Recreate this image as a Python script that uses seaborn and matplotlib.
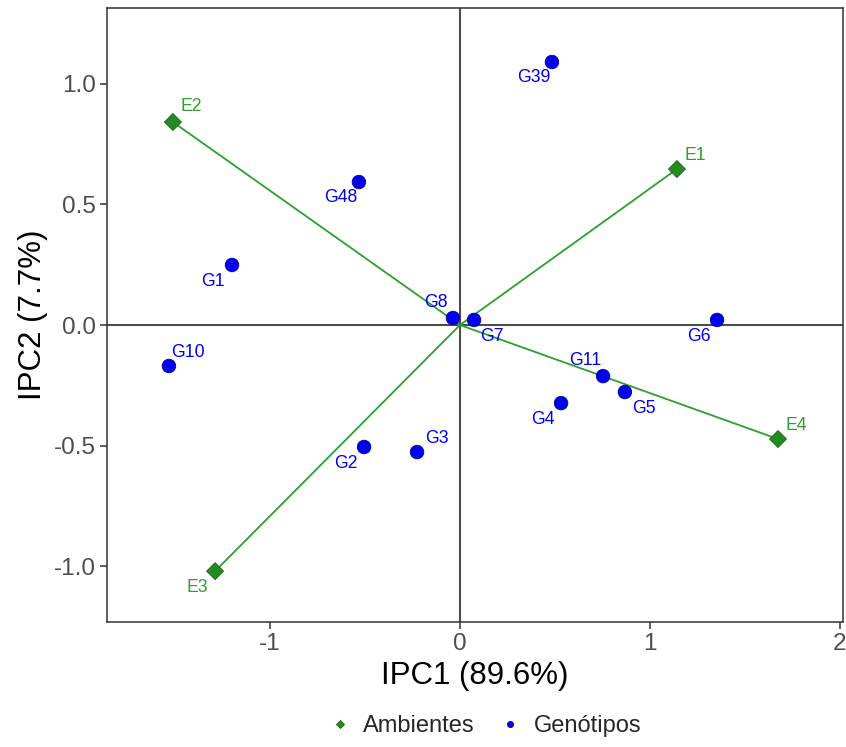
import matplotlib
matplotlib.use("Agg")
import matplotlib.pyplot as plt
import seaborn as sns
import pandas as pd

# Environment scores (IPC1, IPC2)
env_names = ["E1", "E2", "E3", "E4"]
env_pc1 = [1.142, -1.511, -1.289, 1.674]
env_pc2 = [0.647, 0.842, -1.021, -0.473]

# Genotype scores (IPC1, IPC2)
gen_names = ["G39", "G48", "G1", "G10", "G8", "G7", "G6", "G11", "G5", "G4", "G3", "G2"]
gen_pc1 = [0.484, -0.532, -1.200, -1.532, -0.037, 0.074, 1.353, 0.753, 0.868, 0.532, -0.226, -0.505]
gen_pc2 = [1.091, 0.593, 0.249, -0.170, 0.029, 0.021, 0.021, -0.212, -0.278, -0.324, -0.527, -0.506]

# Label offsets in points (dx, dy)
env_off = {"E1": (13, 10), "E2": (13, 11), "E3": (-13, -12), "E4": (13, 10)}
gen_off = {"G39": (-13, -11), "G48": (-13, -11), "G1": (-14, -12), "G10": (14, 10),
           "G8": (-12, 11), "G7": (13, -12), "G6": (-13, -12), "G11": (-13, 11),
           "G5": (14, -12), "G4": (-13, -12), "G3": (14, 10), "G2": (-13, -12)}

env_df = pd.DataFrame({"IPC1": env_pc1, "IPC2": env_pc2, "nome": env_names, "tipo": "Ambientes"})
gen_df = pd.DataFrame({"IPC1": gen_pc1, "IPC2": gen_pc2, "nome": gen_names, "tipo": "Genótipos"})

sns.set_theme(style="white")
plt.rcParams["font.family"] = ["Liberation Sans", "DejaVu Sans"]

fig = plt.figure(figsize=(8.46, 7.47), dpi=100)
ax = fig.add_axes([107 / 846, 125 / 747, 736 / 846, 614 / 747])

ax.axhline(0, color="#4d4d4d", lw=1.5, zorder=1)
ax.axvline(0, color="#4d4d4d", lw=1.5, zorder=1)

# Environment vectors from the origin
for x, y in zip(env_pc1, env_pc2):
    ax.plot([0, x], [0, y], color="#2ca02c", lw=1.3, zorder=2, solid_capstyle="butt")

sns.scatterplot(data=env_df, x="IPC1", y="IPC2", hue="tipo", palette={"Ambientes": "#228B22"},
                marker="D", s=75, edgecolor="#1a5e1a", linewidth=0.6, ax=ax, zorder=3)
sns.scatterplot(data=gen_df, x="IPC1", y="IPC2", hue="tipo", palette={"Genótipos": "#0000EE"},
                marker="o", s=95, edgecolor="#00009a", linewidth=0.6, ax=ax, zorder=3)

for n, x, y in zip(env_names, env_pc1, env_pc2):
    dx, dy = env_off[n]
    ax.annotate(n, (x, y), xytext=(dx, dy), textcoords="offset points",
                ha="center", va="center", color="#2ca02c", fontsize=12.7)
for n, x, y in zip(gen_names, gen_pc1, gen_pc2):
    dx, dy = gen_off[n]
    ax.annotate(n, (x, y), xytext=(dx, dy), textcoords="offset points",
                ha="center", va="center", color="#0000EE", fontsize=12.7)

ax.set_xlim(-1.858, 2.016)
ax.set_ylim(-1.232, 1.315)
ax.set_xticks([-1, 0, 1, 2])
ax.set_xticklabels(["-1", "0", "1", "2"])
ax.set_yticks([-1.0, -0.5, 0.0, 0.5, 1.0])
ax.set_yticklabels(["-1.0", "-0.5", "0.0", "0.5", "1.0"])
ax.tick_params(axis="both", which="major", labelsize=17.5, labelcolor="#4d4d4d",
               color="#333333", length=5, width=1.1, left=True, bottom=True, pad=3)
for sp in ax.spines.values():
    sp.set_color("#333333")
    sp.set_linewidth(1.1)

ax.set_xlabel("IPC1 (89.6%)", fontsize=22.5, color="black", labelpad=4)
ax.set_ylabel("IPC2 (7.7%)", fontsize=22.5, color="black", labelpad=4)

handles, labels = ax.get_legend_handles_labels()
if ax.get_legend():
    ax.get_legend().remove()
fig.legend(handles, labels, loc="center", bbox_to_anchor=(486 / 846, 21 / 747), ncol=2,
           frameon=False, fontsize=17, handlelength=0.8, handletextpad=0.6,
           columnspacing=1.1, markerscale=0.45)

fig.savefig("out.png", dpi=100)
